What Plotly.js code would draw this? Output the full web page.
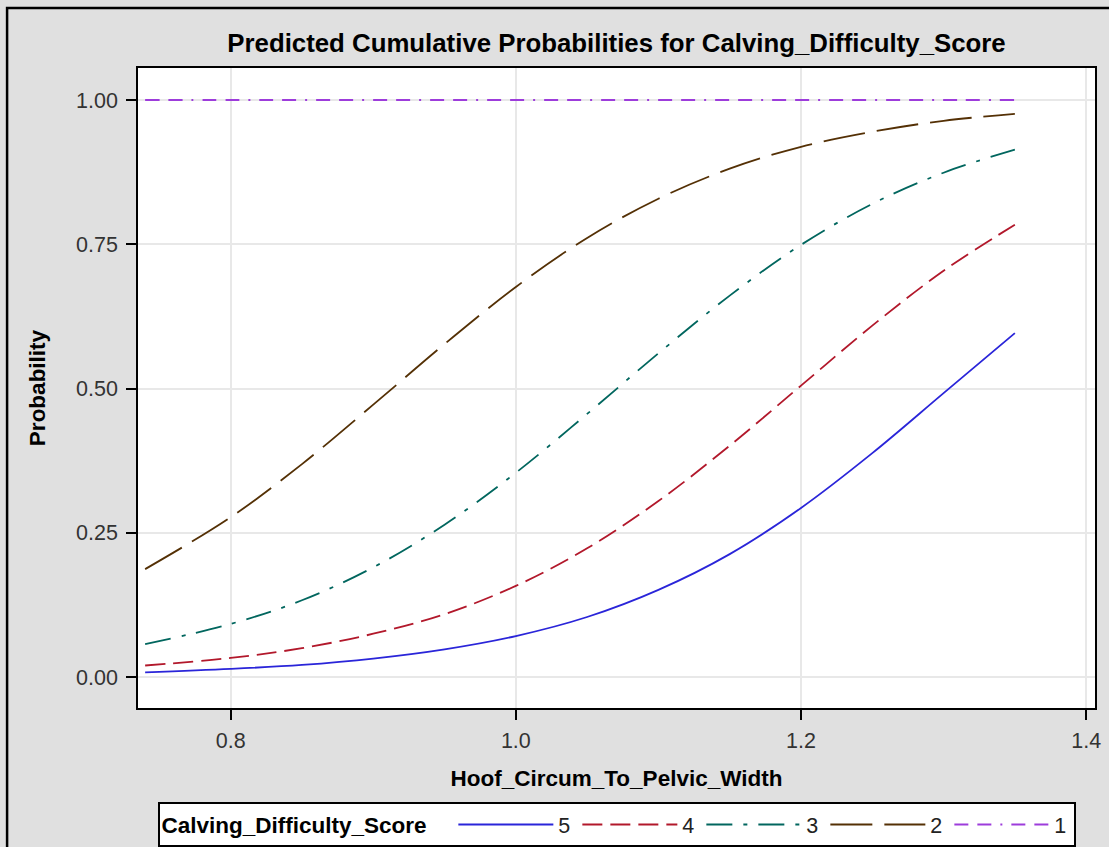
<!DOCTYPE html>
<html>
<head>
<meta charset="utf-8">
<script src="https://cdn.plot.ly/plotly-3.0.1.min.js"></script>
<style>
  html, body { margin: 0; padding: 0; background: #e0e0e0; }
  #chart { width: 1109px; height: 847px; }
</style>
</head>
<body>
<div id="chart"></div>
<script>
// Hoof_Circum_To_Pelvic_Width values
const xVals = [0.74, 0.80, 0.85, 0.90, 0.95, 1.00, 1.05, 1.10, 1.15, 1.20, 1.25, 1.30, 1.35];
// Predicted cumulative probabilities
const score5 = [0.008, 0.014, 0.021, 0.032, 0.048, 0.071, 0.104, 0.151, 0.213, 0.293, 0.388, 0.492, 0.596];
const score4 = [0.020, 0.033, 0.050, 0.075, 0.109, 0.158, 0.223, 0.305, 0.401, 0.505, 0.609, 0.704, 0.784];
const score3 = [0.057, 0.092, 0.133, 0.190, 0.264, 0.354, 0.456, 0.561, 0.661, 0.749, 0.820, 0.874, 0.914];
const score2 = [0.187, 0.277, 0.369, 0.472, 0.577, 0.676, 0.761, 0.829, 0.881, 0.919, 0.945, 0.964, 0.976];
const score1 = [1, 1, 1, 1, 1, 1, 1, 1, 1, 1, 1, 1, 1];

const seriesNames = ['5', '4', '3', '2', '1'];
const seriesData = [score5, score4, score3, score2, score1];
const seriesColors = ['#2A25D9', '#B2182B', '#01665E', '#543005', '#9D3CDB'];
const seriesDash = ['solid', '20px,8px', '26px,11px,4px,11px', '42px,12px', '14px,9px,14px,9px,2px,9px'];

const xTicks = [0.8, 1.0, 1.2, 1.4];
const xTickText = ['0.8', '1.0', '1.2', '1.4'];
const yTicks = [0, 0.25, 0.5, 0.75, 1.0];
const yTickText = ['0.00', '0.25', '0.50', '0.75', '1.00'];

const FONT = 'Arial, "Liberation Sans", Helvetica, sans-serif';

const traces = seriesNames.map((n, i) => ({
  type: 'scatter',
  mode: 'lines',
  name: n,
  x: xVals,
  y: seriesData[i],
  line: { color: seriesColors[i], width: 1.8, dash: seriesDash[i], shape: 'spline', smoothing: 1 },
  hoverinfo: 'x+y+name'
}));

const layout = {
  width: 1109,
  height: 847,
  paper_bgcolor: '#e0e0e0',
  plot_bgcolor: '#ffffff',
  margin: { l: 138, r: 14, t: 68, b: 139 },
  font: { family: FONT, color: '#000' },
  title: {
    text: '<b>Predicted Cumulative Probabilities for Calving_Difficulty_Score</b>',
    font: { family: FONT, size: 25.8, color: '#000' },
    x: 0.5, xref: 'paper', xanchor: 'center',
    y: 1 - 43 / 847, yref: 'container', yanchor: 'middle'
  },
  xaxis: {
    range: [0.735, 1.4062],
    tickmode: 'array', tickvals: xTicks, ticktext: xTickText,
    ticks: 'outside', ticklen: 10, tickwidth: 1.5, tickcolor: '#000',
    tickfont: { family: FONT, size: 21.5, color: '#333' },
    ticklabelstandoff: 2,
    showline: true, linecolor: '#000', linewidth: 1.5, mirror: true,
    showgrid: true, gridcolor: '#e8e8e8', gridwidth: 1.5,
    zeroline: false,
    title: { text: '<b>Hoof_Circum_To_Pelvic_Width</b>', font: { family: FONT, size: 22.5, color: '#000' }, standoff: 19 }
  },
  yaxis: {
    range: [-0.0537, 1.0555],
    tickmode: 'array', tickvals: yTicks, ticktext: yTickText,
    ticks: 'outside', ticklen: 10, tickwidth: 1.5, tickcolor: '#000',
    tickfont: { family: FONT, size: 21.5, color: '#333' },
    ticklabelstandoff: 4,
    showline: true, linecolor: '#000', linewidth: 1.5, mirror: true,
    showgrid: true, gridcolor: '#e8e8e8', gridwidth: 1.5,
    zeroline: false,
    title: { text: '<b>Probability</b>', font: { family: FONT, size: 22.5, color: '#000' }, standoff: 24 }
  },
  showlegend: true,
  legend: {
    orientation: 'h',
    xref: 'paper', x: 0.5, xanchor: 'center',
    yref: 'container', y: 1 - 802 / 847, yanchor: 'top',
    bgcolor: '#ffffff', bordercolor: '#000', borderwidth: 2,
    font: { family: FONT, size: 21.5, color: '#222' },
    title: { text: '<b>Calving_Difficulty_Score</b>\u00a0\u00a0\u00a0', side: 'left', font: { family: FONT, size: 22.5, color: '#000' } },
    itemwidth: 95,
    entrywidth: 14, entrywidthmode: 'pixels',
    traceorder: 'normal',
    tracegroupgap: 0
  },
  shapes: [
    {
      type: 'rect', xref: 'paper', yref: 'paper',
      x0: -0.1368, x1: 1.2, y0: -0.3, y1: 1.09375,
      line: { color: '#000', width: 2.5 }, fillcolor: 'rgba(0,0,0,0)', layer: 'below'
    }
  ]
};

Plotly.newPlot('chart', traces, layout, { displayModeBar: false });
</script>
</body>
</html>
